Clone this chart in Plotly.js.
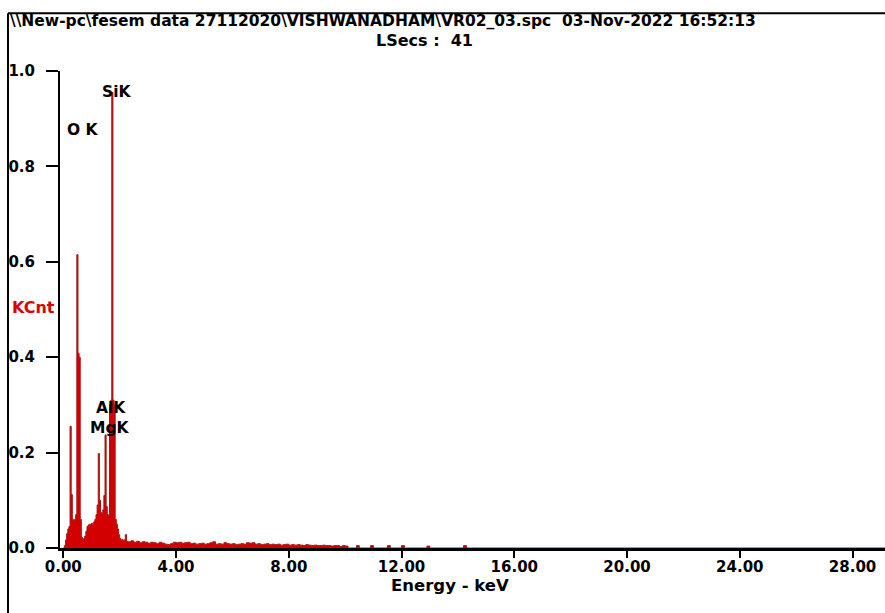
<!DOCTYPE html>
<html>
<head>
<meta charset="utf-8">
<script src="https://cdn.plot.ly/plotly-3.0.1.min.js"></script>
<style>
  html, body { margin: 0; padding: 0; background: #ffffff; }
  #chart { width: 885px; height: 613px; }
</style>
</head>
<body>
<div id="chart"></div>
<script>
// ---- Data ----
const headerText = "\\\\New-pc\\fesem data 27112020\\VISHWANADHAM\\VR02_03.spc  03-Nov-2022 16:52:13";
const liveTimeText = "LSecs :  41";
const xAxisLabel = "Energy - keV";
const yAxisLabel = "KCnt";

// channel start energies (keV)
const energyKeV = [
  0.00, 0.04, 0.08, 0.12, 0.16, 0.20, 0.24, 0.28, 0.32, 0.36,
  0.40, 0.44, 0.48, 0.52, 0.56, 0.60, 0.64, 0.68, 0.72, 0.76,
  0.80, 0.84, 0.88, 0.92, 0.96, 1.00, 1.04, 1.08, 1.12, 1.16,
  1.20, 1.24, 1.28, 1.32, 1.36, 1.40, 1.44, 1.48, 1.52, 1.56,
  1.60, 1.64, 1.68, 1.72, 1.76, 1.80, 1.84, 1.88, 1.92, 1.96,
  2.00, 2.04, 2.08, 2.12, 2.16, 2.20, 2.24,
  2.3, 2.4, 2.5, 2.6, 2.7, 2.8, 2.9, 3.0, 3.1, 3.2,
  3.3, 3.4, 3.5, 3.6, 3.7, 3.8, 3.9, 4.0, 4.1, 4.2,
  4.3, 4.4, 4.5, 4.6, 4.7, 4.8, 4.9, 5.0, 5.1, 5.2,
  5.3, 5.4, 5.5, 5.6, 5.7, 5.8, 5.9, 6.0, 6.1, 6.2,
  6.3, 6.4, 6.5, 6.6, 6.7, 6.8, 6.9, 7.0, 7.1, 7.2,
  7.3, 7.4, 7.5, 7.6, 7.7, 7.8, 7.9, 8.0, 8.1, 8.2,
  8.3, 8.4, 8.5, 8.6, 8.7, 8.8, 8.9, 9.0, 9.1, 9.2,
  9.3, 9.4, 9.5, 9.6, 9.7, 9.8, 9.9, 10.0, 10.1,
  10.4, 10.5, 10.9, 11.0, 11.5, 11.6, 12.0, 12.1, 12.9, 13.0,
  14.2, 14.3, 29.2
];
// counts (KCnt) in each channel
const kcnt = [
  0.000, 0.005, 0.017, 0.030, 0.040, 0.045, 0.255, 0.112, 0.060, 0.058,
  0.060, 0.070, 0.615, 0.408, 0.400, 0.060, 0.022, 0.018, 0.020, 0.025,
  0.035, 0.045, 0.048, 0.050, 0.048, 0.052, 0.050, 0.055, 0.060, 0.070,
  0.090, 0.198, 0.100, 0.075, 0.072, 0.080, 0.110, 0.237, 0.087, 0.070,
  0.065, 0.300, 0.310, 0.955, 0.310, 0.300, 0.060, 0.050, 0.040, 0.028,
  0.020, 0.017, 0.018, 0.015, 0.017, 0.028, 0.014,
  0.013, 0.015, 0.012, 0.014, 0.011, 0.013, 0.012, 0.010, 0.012, 0.011,
  0.009, 0.012, 0.010, 0.008, 0.007, 0.009, 0.012, 0.011, 0.012, 0.010,
  0.011, 0.012, 0.009, 0.010, 0.008, 0.009, 0.010, 0.008, 0.009, 0.011,
  0.013, 0.008, 0.009, 0.008, 0.011, 0.009, 0.008, 0.009, 0.007, 0.008,
  0.009, 0.008, 0.011, 0.010, 0.011, 0.008, 0.009, 0.007, 0.008, 0.009,
  0.007, 0.008, 0.007, 0.008, 0.006, 0.007, 0.008, 0.006, 0.007, 0.006,
  0.007, 0.006, 0.005, 0.007, 0.006, 0.005, 0.006, 0.005, 0.005, 0.006,
  0.005, 0.005, 0.004, 0.005, 0.005, 0.003, 0.005, 0.004, 0.000,
  0.005, 0.000, 0.005, 0.000, 0.005, 0.000, 0.005, 0.000, 0.004, 0.000,
  0.005, 0.000, 0.000
];

// axis ticks
const xTickVals = [0, 4, 8, 12, 16, 20, 24, 28];
const xTickText = ["0.00", "4.00", "8.00", "12.00", "16.00", "20.00", "24.00", "28.00"];
const yTickVals = [0, 0.2, 0.4, 0.6, 0.8, 1.0];
const yTickText = ["0.0", "0.2", "0.4", "0.6", "0.8", "1.0"];

// peak labels
const peakNames = ["SiK", "O K", "AlK", "MgK"];
const peakLabelE = [1.87, 0.70, 1.70, 1.64];
const peakLabelY = [0.956, 0.877, 0.294, 0.252];

// ---- Chart ----
const FONT = "DejaVu Sans, Verdana, Arial, sans-serif";
const W = 885, H = 613;
const M = { l: 60, r: 0, t: 71, b: 65 };
const PW = W - M.l - M.r, PH = H - M.t - M.b;
const px = (x) => (x - M.l) / PW;           // pixel -> paper x
const py = (y) => (H - M.b - y) / PH;        // pixel -> paper y

const trace = {
  type: "scatter",
  mode: "lines",
  x: energyKeV,
  y: kcnt,
  line: { shape: "hv", color: "#a81414", width: 1 },
  fill: "tozeroy",
  fillcolor: "#d20000",
  hoverinfo: "x+y",
  showlegend: false
};

const annotations = peakNames.map((n, i) => ({
  text: n, x: peakLabelE[i], y: peakLabelY[i], xref: "x", yref: "y",
  showarrow: false, xanchor: "center", yanchor: "middle",
  font: { family: FONT, size: 15.5, color: "#000", weight: "bold" }
}));
annotations.push({
  text: liveTimeText, xref: "paper", yref: "paper", x: px(424), y: py(40),
  xanchor: "center", yanchor: "middle", showarrow: false,
  font: { family: FONT, size: 16, color: "#000", weight: "bold" }
});
annotations.push({
  text: yAxisLabel, xref: "paper", yref: "paper", x: px(33), y: py(307),
  xanchor: "center", yanchor: "middle", showarrow: false,
  font: { family: FONT, size: 16, color: "#dd0000", weight: "bold" }
});
annotations.push({
  text: xAxisLabel, xref: "paper", yref: "paper", x: px(450), y: py(585),
  xanchor: "center", yanchor: "middle", showarrow: false,
  font: { family: FONT, size: 16.5, color: "#000", weight: "bold" }
});

const layout = {
  width: W, height: H,
  margin: M,
  paper_bgcolor: "#ffffff",
  plot_bgcolor: "#ffffff",
  title: {
    text: headerText,
    xref: "container", yref: "container",
    x: 10 / W, xanchor: "left",
    y: 1 - 21 / H, yanchor: "middle",
    font: { family: FONT, size: 15.5, color: "#000", weight: "bold" }
  },
  xaxis: {
    range: [-0.117, 29.15],
    tickmode: "array", tickvals: xTickVals, ticktext: xTickText,
    ticks: "outside", ticklen: 7, tickwidth: 2, tickcolor: "#000",
    showline: true, linewidth: 2.5, linecolor: "#000",
    showgrid: false, zeroline: false,
    ticklabelstandoff: -4,
    tickfont: { family: FONT, size: 15, color: "#000", weight: "bold" },
    fixedrange: true
  },
  yaxis: {
    range: [0, 1.0],
    tickmode: "array", tickvals: yTickVals, ticktext: yTickText,
    ticks: "outside", ticklen: 12, tickwidth: 2, tickcolor: "#000",
    showline: true, linewidth: 2, linecolor: "#000",
    showgrid: false, zeroline: false,
    ticklabelstandoff: 8,
    tickfont: { family: FONT, size: 15, color: "#000", weight: "bold" },
    fixedrange: true
  },
  shapes: [
    { type: "line", xref: "paper", yref: "paper", x0: px(8), x1: px(885), y0: py(13.3), y1: py(13.3),
      line: { color: "#000", width: 2 } },
    { type: "line", xref: "paper", yref: "paper", x0: px(8), x1: px(8), y0: py(13.3), y1: py(613),
      line: { color: "#000", width: 2 } }
  ],
  annotations: annotations
};

Plotly.newPlot("chart", [trace], layout, { displayModeBar: false, staticPlot: true });
</script>
</body>
</html>
